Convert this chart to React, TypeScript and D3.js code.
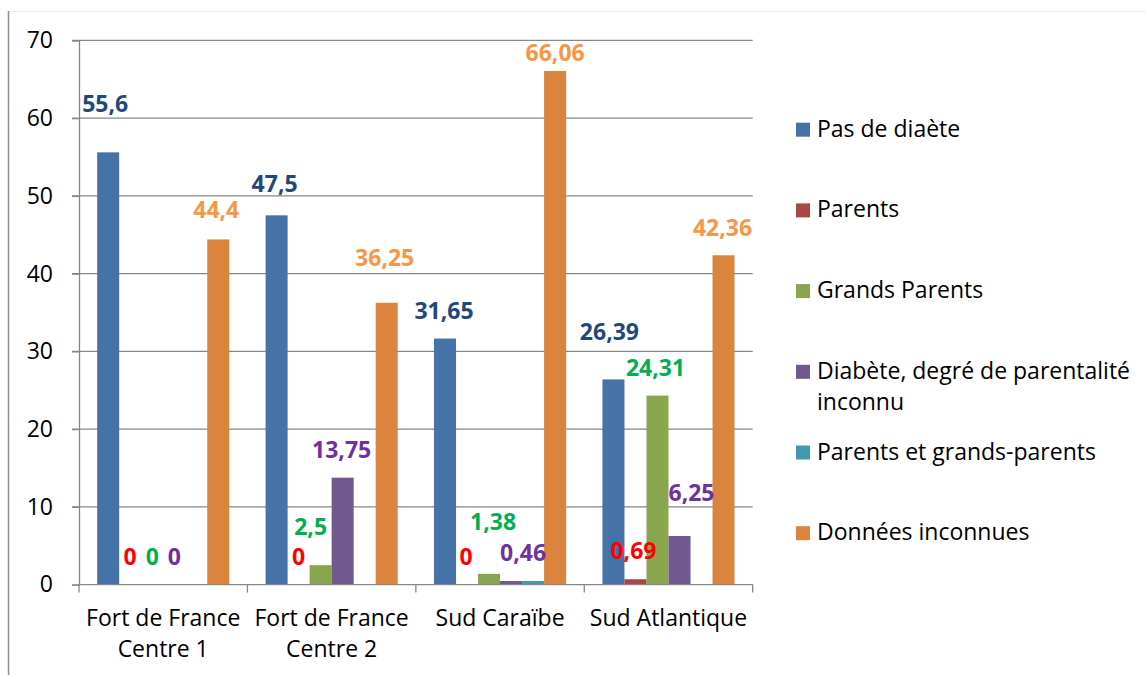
import * as d3 from "d3";
import { useEffect, useRef } from "react";

const categories = [
  ["Fort de France", "Centre 1"],
  ["Fort de France", "Centre 2"],
  ["Sud Caraïbe"],
  ["Sud Atlantique"],
];
const seriesNames = [
  "Pas de diaète",
  "Parents",
  "Grands Parents",
  "Diabète, degré de parentalité inconnu",
  "Parents et grands-parents",
  "Données inconnues",
];
const legendLines = [
  ["Pas de diaète"],
  ["Parents"],
  ["Grands Parents"],
  ["Diabète, degré de parentalité", "inconnu"],
  ["Parents et grands-parents"],
  ["Données inconnues"],
];
// values per series, one per category
const pasDeDiaete = [55.6, 47.5, 31.65, 26.39];
const parents = [0, 0, 0, 0.69];
const grandsParents = [0, 2.5, 1.38, 24.31];
const diabeteInconnu = [0, 13.75, 0.46, 6.25];
const parentsEtGrands = [0, 0, 0.46, 0];
const donneesInconnues = [44.4, 36.25, 66.06, 42.36];
// which bars carry a label (teal series shows none)
const showLabel = [
  [true, true, true, true],
  [true, true, true, true],
  [true, true, true, true],
  [true, true, true, true],
  [false, false, false, false],
  [true, true, true, true],
];
const yTicks = [0, 10, 20, 30, 40, 50, 60, 70];

// labels were dragged around by hand in the original: lift above bar top, sideways nudge (px)
const labelLift = [
  [48, 31, 27.5, 47],
  [28, 28, 28, 28],
  [28, 38, 52, 28],
  [28, 28, 28, 43],
  [0, 0, 0, 0],
  [29, 45, 18.5, 27],
];
const labelNudge = [
  [-3, -2, -1, -4],
  [0, 0, -1, -2],
  [0, -10, 4, -2],
  [0, -1, 12, 12],
  [0, 0, 0, 0],
  [-2, -2, 0, -1],
];

const barColors = ["#4572A7", "#AA4643", "#89A54E", "#71588F", "#4198AF", "#DB843D"];
const labelColors = ["#1F497D", "#FF0000", "#00B050", "#7030A0", "#4198AF", "#F79646"];

export default function App() {
  const ref = useRef<SVGSVGElement>(null);

  useEffect(() => {
    if (!ref.current) return;
    const svg = d3.select(ref.current);
    svg.selectAll("*").remove();

    const width = 1146,
      height = 675;
    const font = "'Open Sans', sans-serif";
    const fs = "23px";
    const grid = "#878787";

    svg.attr("width", width).attr("height", height);

    const values = [
      pasDeDiaete,
      parents,
      grandsParents,
      diabeteInconnu,
      parentsEtGrands,
      donneesInconnues,
    ];

    const left = 79,
      right = 752.7;
    const x0 = d3
      .scaleBand<number>()
      .domain(d3.range(categories.length))
      .range([left, right])
      .padding(0);
    const bw = x0.bandwidth();
    const barW = bw / 7.65;
    const x1 = d3
      .scaleBand<number>()
      .domain(d3.range(seriesNames.length))
      .range([barW * 0.825, bw - barW * 0.825])
      .padding(0);

    const y = d3.scaleLinear().domain([0, 70]).range([584.6, 40.4]);

    // chart frame
    svg.append("line")
      .attr("x1", 8).attr("x2", width).attr("y1", 11.5).attr("y2", 11.5)
      .attr("stroke", "#ececec");
    svg.append("line")
      .attr("x1", 8.5).attr("x2", 8.5).attr("y1", 11).attr("y2", height)
      .attr("stroke", "#8c8c8c").attr("stroke-width", 1.5);

    // gridlines
    svg.append("g")
      .selectAll("line")
      .data(yTicks.filter((t) => t > 0))
      .enter()
      .append("line")
      .attr("x1", left - 7)
      .attr("x2", right)
      .attr("y1", (d) => y(d))
      .attr("y2", (d) => y(d))
      .attr("stroke", grid)
      .attr("stroke-width", 1.3);

    // y axis
    const yAxis = svg.append("g")
      .attr("transform", `translate(${left}, 0)`)
      .call(d3.axisLeft(y).tickValues(yTicks).tickSize(7).tickPadding(19).tickFormat((d) => String(d)));
    yAxis.select(".domain").attr("stroke", grid).attr("stroke-width", 1.3);
    yAxis.selectAll(".tick line").attr("stroke", grid).attr("stroke-width", 1.3);
    yAxis.selectAll("text")
      .attr("fill", "#000")
      .attr("font-family", font)
      .attr("font-size", fs);

    // bars
    const groups = svg.append("g")
      .selectAll("g")
      .data(categories.map((_, i) => i))
      .enter()
      .append("g")
      .attr("transform", (i) => `translate(${x0(i)}, 0)`);

    groups.selectAll("rect")
      .data((ci) => values.map((s, si) => ({ si, ci, v: s[ci] })))
      .enter()
      .append("rect")
      .attr("x", (d) => x1(d.si)!)
      .attr("width", x1.bandwidth())
      .attr("y", (d) => y(d.v))
      .attr("height", (d) => y(0) - y(d.v))
      .attr("fill", (d) => barColors[d.si]);

    // x axis
    svg.append("line")
      .attr("x1", left).attr("x2", right)
      .attr("y1", y(0)).attr("y2", y(0))
      .attr("stroke", grid).attr("stroke-width", 1.3);
    svg.append("g")
      .selectAll("line")
      .data(d3.range(categories.length + 1))
      .enter()
      .append("line")
      .attr("x1", (i) => left + i * bw)
      .attr("x2", (i) => left + i * bw)
      .attr("y1", y(0))
      .attr("y2", y(0) + 8)
      .attr("stroke", grid)
      .attr("stroke-width", 1.3);

    const xl = svg.append("g")
      .selectAll("text")
      .data(categories)
      .enter()
      .append("text")
      .attr("x", (_, i) => x0(i)! + bw / 2)
      .attr("y", 626)
      .attr("text-anchor", "middle")
      .attr("fill", "#000")
      .attr("font-family", font)
      .attr("font-size", fs);
    xl.selectAll("tspan")
      .data((d) => d)
      .enter()
      .append("tspan")
      .attr("x", function () {
        return (this as any).parentNode.getAttribute("x");
      })
      .attr("dy", (_, i) => (i === 0 ? 0 : 31))
      .text((d) => d);

    // data labels
    const labels: { si: number; ci: number; v: number }[] = [];
    values.forEach((s, si) =>
      s.forEach((v, ci) => {
        if (showLabel[si][ci]) labels.push({ si, ci, v });
      })
    );
    svg.append("g")
      .selectAll("text")
      .data(labels)
      .enter()
      .append("text")
      .attr("x", (d) => x0(d.ci)! + x1(d.si)! + x1.bandwidth() / 2 + labelNudge[d.si][d.ci])
      .attr("y", (d) => y(d.v) - labelLift[d.si][d.ci])
      .attr("dy", "0.35em")
      .attr("text-anchor", "middle")
      .attr("fill", (d) => labelColors[d.si])
      .attr("font-family", font)
      .attr("font-weight", "bold")
      .attr("font-size", fs)
      .text((d) => String(d.v).replace(".", ","));

    // legend
    const legend = svg.append("g")
      .selectAll("g")
      .data(legendLines)
      .enter()
      .append("g")
      .attr("transform", (_, i) => `translate(796, ${136.7 + i * 80.7})`);
    legend.append("rect")
      .attr("x", 0)
      .attr("y", -14)
      .attr("width", 14)
      .attr("height", 14)
      .attr("fill", (_, i) => barColors[i]);
    legend.append("text")
      .attr("x", 21)
      .attr("fill", "#000")
      .attr("font-family", font)
      .attr("font-size", fs)
      .selectAll("tspan")
      .data((d) => d)
      .enter()
      .append("tspan")
      .attr("x", 21)
      .attr("dy", (_, i) => (i === 0 ? 0 : 31.5))
      .text((d) => d);
  }, []);

  return (
    <svg
      ref={ref}
      style={{ position: "absolute", left: 0, top: 0, background: "#fff" }}
    />
  );
}
